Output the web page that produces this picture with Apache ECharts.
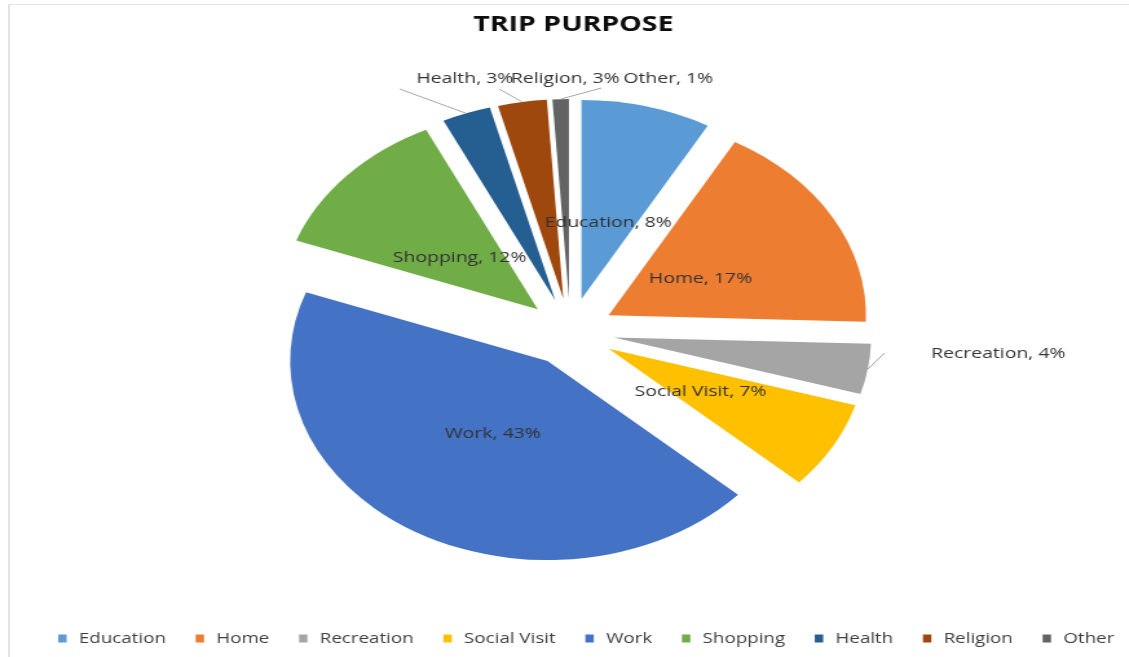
<!DOCTYPE html>
<html>
<head>
<meta charset="utf-8">
<script src="https://cdn.jsdelivr.net/npm/echarts@6/dist/echarts.min.js"></script>
<style>
  html, body { margin: 0; padding: 0; background: #fff; width: 1129px; height: 657px; overflow: hidden; }
  #frame { position: absolute; left: 8px; top: 4px; width: 1300px; height: 800px;
           border-left: 2px solid #e3e3e3; border-top: 1px solid #e3e3e3; }
  /* the chart is laid out narrow and stretched sideways to the page width */
  #chart { position: absolute; left: 0; top: 0; width: 873px; height: 657px;
           transform: scaleX(1.2932); transform-origin: 0 0; }
</style>
</head>
<body>
<div id="frame"></div>
<div id="chart"></div>
<script>
// Trip purpose shares (percent)
const categories = ['Education', 'Home', 'Recreation', 'Social Visit', 'Work', 'Shopping', 'Health', 'Religion', 'Other'];
const shares = [8, 17, 4, 7, 43, 12, 3, 3, 1];
const colors = ['#5B9BD5', '#ED7D31', '#A5A5A5', '#FFC000', '#4472C4', '#70AD47', '#255E91', '#9E480E', '#636363'];
const outsideNames = ['Recreation', 'Health', 'Religion', 'Other'];

// pie geometry (chart coordinates, before the sideways stretch)
const CENTER = [441, 332];
const RADIUS = 199;
const EXPLODE = 34;
const INSIDE_LABEL_DIST = EXPLODE + 0.41 * RADIUS;
const INSIDE_LABEL_DROP = 3;

// where the outside labels go and where their leader lines end
const outsidePlacement = {
  'Health':     { x: 322, y: 79,  end: [309, 89] },
  'Religion':   { x: 395, y: 79,  end: [386, 89] },
  'Other':      { x: 482, y: 79,  end: [465, 88] },
  'Recreation': { x: 720, y: 354, end: [684, 353] }
};

const chart = echarts.init(document.getElementById('chart'), null, { renderer: 'canvas' });

// exploded slices: every slice is "selected" and pushed out along its bisector
const sliceData = categories.map((name, i) => ({
  name: name,
  value: shares[i],
  selected: true,
  itemStyle: { color: colors[i] }
}));

// a transparent twin of the pie that carries the data labels
const labelData = categories.map((name, i) => ({
  name: name,
  value: shares[i],
  itemStyle: { color: 'rgba(0,0,0,0)' },
  label: { position: outsideNames.includes(name) ? 'outside' : 'inside' },
  labelLine: { show: outsideNames.includes(name) }
}));

function pushOut(pt, dist) {
  const dx = pt[0] - CENTER[0], dy = pt[1] - CENTER[1];
  const len = Math.sqrt(dx * dx + dy * dy) || 1;
  return [CENTER[0] + dx / len * dist, CENTER[1] + dy / len * dist];
}

chart.setOption({
  animation: false,
  backgroundColor: 'transparent',
  title: {
    text: 'TRIP PURPOSE',
    left: 361,
    top: 9,
    textStyle: { fontFamily: 'Open Sans', fontWeight: 'bold', fontSize: 22, color: '#0d0d0d' }
  },
  legend: {
    data: categories,
    left: 40,
    top: 626,
    width: 900,
    icon: 'rect',
    itemWidth: 6.5,
    itemHeight: 8,
    itemGap: 23,
    selectedMode: false,
    textStyle: { fontFamily: 'Open Sans', fontSize: 14.5, color: '#404040', padding: [0, 0, 0, 4.5] }
  },
  series: [{
    type: 'pie',
    center: CENTER,
    radius: RADIUS,
    startAngle: 90,
    clockwise: true,
    selectedMode: 'multiple',
    selectedOffset: EXPLODE,
    emphasis: { disabled: true },
    select: { itemStyle: { borderWidth: 0 } },
    itemStyle: { borderWidth: 0 },
    label: { show: false },
    labelLine: { show: false },
    data: sliceData
  }, {
    type: 'pie',
    center: CENTER,
    radius: RADIUS,
    startAngle: 90,
    clockwise: true,
    silent: true,
    selectedMode: false,
    avoidLabelOverlap: false,
    emphasis: { disabled: true },
    z: 3,
    label: {
      show: true,
      formatter: p => p.name + ', ' + p.value + '%',
      fontFamily: 'Open Sans',
      fontSize: 15,
      color: '#333333'
    },
    labelLine: { show: true, length: 10, length2: 10, lineStyle: { color: '#a6a6a6', width: 1 } },
    labelLayout: function (params) {
      const name = categories[params.dataIndex];
      if (outsideNames.includes(name)) {
        const place = outsidePlacement[name];
        const start = pushOut(params.labelLinePoints[0], RADIUS + EXPLODE);
        return {
          x: place.x, y: place.y, align: 'left', verticalAlign: 'middle',
          labelLinePoints: [start, place.end, place.end]
        };
      }
      const r = params.labelRect;
      const p = pushOut([r.x + r.width / 2, r.y + r.height / 2], INSIDE_LABEL_DIST);
      return { x: p[0], y: p[1] + INSIDE_LABEL_DROP, align: 'center', verticalAlign: 'middle' };
    },
    data: labelData
  }]
});
</script>
</body>
</html>
